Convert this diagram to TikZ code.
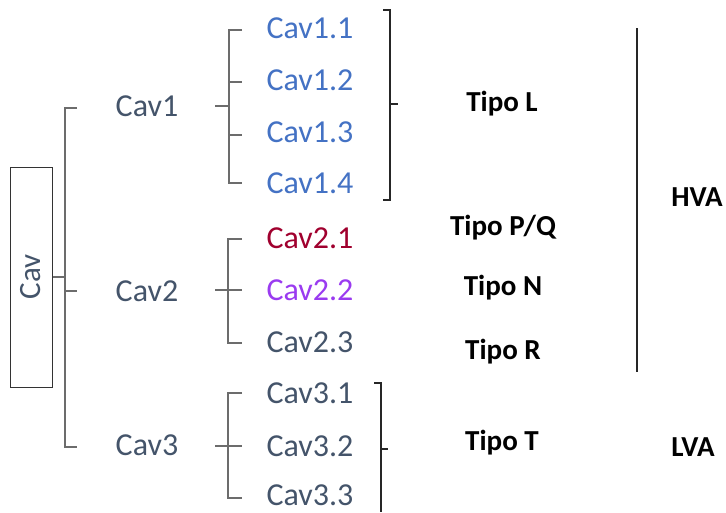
\documentclass[tikz,border=0pt]{standalone}
\usepackage{fontspec}
\setmainfont{Carlito}
\begin{document}
\begin{tikzpicture}[x=1pt,y=-1pt,
  lbl/.style={inner sep=0pt,anchor=center,font=\fontsize{32}{32}\selectfont},
  tipo/.style={inner sep=0pt,anchor=center,font=\fontsize{29}{29}\selectfont\bfseries,text=black},
  gline/.style={draw=gray!85!black,line width=1.3pt},
  kline/.style={draw=black!85,line width=1.3pt}]
\definecolor{tgray}{HTML}{44546A}
\definecolor{tblue}{HTML}{4472C4}
\definecolor{tred}{HTML}{A0002E}
\definecolor{tviolet}{HTML}{9A3BF0}
\useasboundingbox (0,0) rectangle (726,512);
% root
\node[draw=black!80,line width=1pt,rotate=90,minimum width=220pt,minimum height=42pt,inner sep=0pt,
  font=\fontsize{31}{31}\selectfont,text=tgray] (cav) at (31,277) {Cav};
% level 1
\node[lbl,text=tgray] (c1) at (147,106) {Cav1};
\node[lbl,text=tgray] (c2) at (147,291) {Cav2};
\node[lbl,text=tgray] (c3) at (147,445) {Cav3};
% level 2
\node[lbl,text=tblue] (c11) at (310,28) {Cav1.1};
\node[lbl,text=tblue] (c12) at (310,80) {Cav1.2};
\node[lbl,text=tblue] (c13) at (310,132) {Cav1.3};
\node[lbl,text=tblue] (c14) at (310,183) {Cav1.4};
\node[lbl,text=tred] (c21) at (310,238) {Cav2.1};
\node[lbl,text=tviolet] (c22) at (310,290) {Cav2.2};
\node[lbl,text=tgray] (c23) at (310,342) {Cav2.3};
\node[lbl,text=tgray] (c31) at (310,393) {Cav3.1};
\node[lbl,text=tgray] (c32) at (310,446) {Cav3.2};
\node[lbl,text=tgray] (c33) at (310,495) {Cav3.3};
% types
\node[tipo] (tL) at (502,104) {Tipo L};
\node[tipo] (tPQ) at (503,228) {Tipo P/Q};
\node[tipo] (tN) at (503,288) {Tipo N};
\node[tipo] (tR) at (503,352) {Tipo R};
\node[tipo] (tT) at (502,443) {Tipo T};
\node[tipo] (hva) at (697,197) {HVA};
\node[tipo] (lva) at (693,447) {LVA};
% root bracket
\coordinate (rv) at (65,0);
\draw[gline] (cav.south) -- (rv |- cav.south);
\draw[gline] (77,108) -- (65,108) -- (65,447) -- (77,447);
\draw[gline] (65,291) -- (77,291);
% Cav1 bracket
\draw[gline] (215,106) -- (229,106);
\draw[gline] (242,30) -- (229,30) -- (229,183) -- (242,183);
\draw[gline] (229,82) -- (242,82);
\draw[gline] (229,135) -- (242,135);
% Cav2 bracket
\draw[gline] (215,290) -- (242,290);
\draw[gline] (242,239) -- (228,239) -- (228,343) -- (242,343);
% Cav3 bracket
\draw[gline] (215,446) -- (242,446);
\draw[gline] (242,393) -- (228,393) -- (228,498) -- (242,498);
% right brackets
\draw[kline] (383,10) -- (390,10) -- (390,200) -- (383,200);
\draw[kline] (390,104) -- (398,104);
\draw[kline] (374,383) -- (381,383) -- (381,512);
\draw[kline] (381,449) -- (388,449);
% HVA line
\draw[kline] (637,28) -- (637,372);
\end{tikzpicture}
\end{document}
